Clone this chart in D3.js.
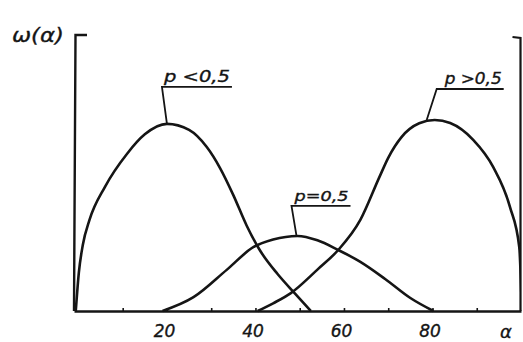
<!DOCTYPE html>
<html>
<head>
<meta charset="utf-8">
<script src="https://cdn.jsdelivr.net/npm/d3@7"></script>
<style>
  html, body { margin: 0; padding: 0; background: #fff; }
  svg { display: block; }
  text { font-family: "DejaVu Sans", sans-serif; font-style: italic; fill: #151515; stroke: #151515; stroke-width: 0.35px; }
</style>
</head>
<body>
<svg id="chart" width="523" height="342"></svg>
<script>
// Distribution ω(α) for three values of p; α in the same units as the tick labels.
const alphaLow = [-0.6, 0.1, 1, 2.5, 6, 11, 15, 20, 25, 29, 32, 35, 38, 41, 45, 49, 52.5];
const omegaLow = [0, 14, 24, 33, 45, 57, 64, 67.8, 65.6, 59.4, 51.8, 42, 31, 22, 13.4, 6.2, 0];

const alphaHalf = [19, 26, 33.5, 39.6, 44, 49.5, 54, 58.7, 63.7, 69.3, 75, 80.2];
const omegaHalf = [0, 5, 14.9, 23.2, 25.9, 27.2, 25.6, 22.1, 17.8, 11.6, 4.7, 0];

const alphaHigh = [40.5, 44, 48, 54, 58.7, 63.7, 68, 70, 73, 77, 80.5, 84, 89.2, 93.7, 97.5, 99.6, 100.2];
const omegaHigh = [0, 2.8, 6.5, 15, 22.1, 33, 48.5, 55.5, 63, 68, 69.2, 68.1, 62, 52.2, 37.7, 23.2, 0];

const seriesNames = ["p <0,5", "p=0,5", "p >0,5"];
const tickValues = [10, 20, 30, 40, 50, 60, 70, 80, 90];
const tickLabels = [20, 40, 60, 80];
const yAxisTitle = "ω(α)";
const xAxisTitle = "α";

const series = [
  { name: seriesNames[0], pts: alphaLow.map((a, i) => [a, omegaLow[i]]) },
  { name: seriesNames[1], pts: alphaHalf.map((a, i) => [a, omegaHalf[i]]) },
  { name: seriesNames[2], pts: alphaHigh.map((a, i) => [a, omegaHigh[i]]) }
];

// Callout geometry for each curve: leader from the curve's peak up to an underline.
const callouts = [
  { leadDx: 0,  riseDx: -5, riseDy: -37, lineLen: 70, textDx: 2, fontSize: 15 },
  { leadDx: -1, riseDx: -5, riseDy: -30, lineLen: 59, textDx: 3, fontSize: 14 },
  { leadDx: -8, riseDx: 10, riseDy: -31, lineLen: 67, textDx: 8, fontSize: 15 }
];

const svg = d3.select("#chart");
const x = d3.scaleLinear().domain([-1, 100]).range([74, 521]);
const y = d3.scaleLinear().domain([0, 100]).range([311, 35]);

const ink = "#151515";

// Plot clip so curves end at the frame
svg.append("defs").append("clipPath").attr("id", "plot")
  .append("rect")
  .attr("x", x.range()[0]).attr("y", y.range()[1])
  .attr("width", x.range()[1] - x.range()[0] - 0.5)
  .attr("height", y.range()[0] - y.range()[1] + 2);

// Bottom axis with small upward ticks
const xAxis = d3.axisBottom(x)
  .tickValues(tickValues)
  .tickSizeInner(-3)
  .tickSizeOuter(0)
  .tickPadding(14)
  .tickFormat(d => tickLabels.includes(d) ? d : "");

const gx = svg.append("g").attr("transform", `translate(0,${y(0)})`).call(xAxis);
gx.select(".domain").attr("stroke", ink).attr("stroke-width", 2.4);
gx.selectAll(".tick line").attr("stroke", ink).attr("stroke-width", 1.6);
gx.selectAll(".tick text")
  .attr("fill", ink)
  .style("font-family", "'DejaVu Sans', sans-serif")
  .style("font-style", "italic")
  .style("font-size", "17px")
  .attr("dx", "-3");

// Left axis with a short hook at the top
const xl = x.range()[0], xr = x.range()[1] - 0.5;
svg.append("path")
  .attr("d", `M${xl},${y(0)} L${xl + 1.5},${y.range()[1]} L${xl + 13},${y.range()[1]}`)
  .attr("fill", "none").attr("stroke", ink).attr("stroke-width", 2.4);

// Right frame edge with a short hook at the top
svg.append("path")
  .attr("d", `M${xr},${y(0)} L${xr},${y.range()[1] + 3} L${xr - 8},${y.range()[1] + 2}`)
  .attr("fill", "none").attr("stroke", ink).attr("stroke-width", 2.2);

// Curves
const line = d3.line()
  .x(d => x(d[0]))
  .y(d => y(d[1]))
  .curve(d3.curveMonotoneX);

svg.append("g").attr("clip-path", "url(#plot)")
  .selectAll("path.curve")
  .data(series)
  .join("path")
  .attr("class", "curve")
  .attr("d", d => line(d.pts))
  .attr("fill", "none")
  .attr("stroke", ink)
  .attr("stroke-width", 2.6)
  .attr("stroke-linejoin", "round");

// Callouts
series.forEach((s, i) => {
  const c = callouts[i];
  const peak = d3.greatest(s.pts, d => d[1]);
  const px = x(peak[0]) + c.leadDx, py = y(peak[1]);
  const ux = px + c.riseDx, uy = py + c.riseDy;
  svg.append("path")
    .attr("d", `M${px},${py} L${ux},${uy} L${ux + c.lineLen},${uy}`)
    .attr("fill", "none").attr("stroke", ink).attr("stroke-width", 1.8);
  svg.append("text")
    .attr("x", ux + c.textDx)
    .attr("y", uy - 5)
    .style("font-size", c.fontSize + "px")
    .attr("textLength", c.lineLen - c.textDx - 2)
    .attr("lengthAdjust", "spacingAndGlyphs")
    .text(s.name);
});

// Axis titles
svg.append("text")
  .attr("x", 12).attr("y", 42)
  .style("font-size", "20px")
  .attr("textLength", 52)
  .attr("lengthAdjust", "spacingAndGlyphs")
  .text(yAxisTitle);

svg.append("text")
  .attr("x", 500).attr("y", 338)
  .style("font-size", "18px")
  .text(xAxisTitle);
</script>
</body>
</html>
